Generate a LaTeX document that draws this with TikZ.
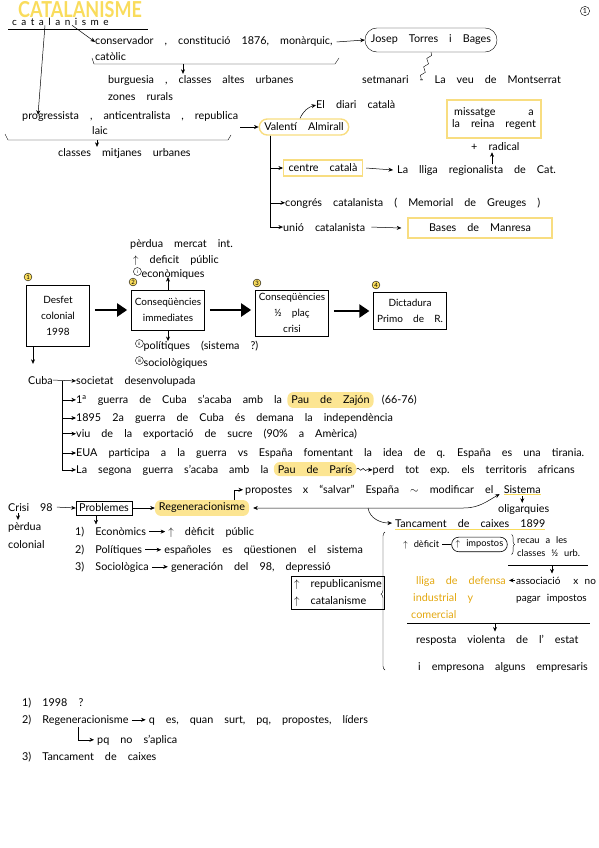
\documentclass[tikz,border=0pt]{standalone}
\usepackage{fontspec}
\setmainfont{Lato}[WordSpace=4]
\newfontfamily\tightsp{Lato}[WordSpace=2.5]
\usepackage{amsmath,amssymb}
\usetikzlibrary{arrows.meta,positioning,calc,shapes.geometric,decorations.pathmorphing,decorations.pathreplacing}
\definecolor{titleyellow}{HTML}{F9DC5C}
\definecolor{hlfill}{HTML}{FCE592}
\definecolor{boxyellow}{HTML}{F8DD80}
\definecolor{orangetxt}{HTML}{E3A70F}
\newcommand{\rnum}[1]{\tikz[baseline=-0.7ex]\node[circle,draw,inner sep=0.3pt,minimum size=8pt,font=\fontsize{4.5}{4.5}\selectfont]{#1};}

\begin{document}
\begin{tikzpicture}[x=1pt, y=-1pt,
  every node/.style={font=\fontsize{10.8}{12}\selectfont},
  txt/.style={anchor=base west, inner sep=0pt},
  smalltxt/.style={anchor=base west, inner sep=0pt, font=\tightsp\fontsize{9.3}{11}\selectfont},
  hl/.style={fill=hlfill, rounded corners=6pt, inner xsep=4pt, inner ysep=3pt},
  ybox/.style={draw=boxyellow, line width=1.4pt, inner xsep=5pt, inner ysep=4pt},
  box/.style={draw, line width=0.7pt, inner sep=3pt},
  flowbox/.style={draw, line width=0.7pt, align=center, font=\fontsize{10}{16}\selectfont},
  numc/.style={circle, draw, fill=titleyellow, inner sep=0.8pt, font=\fontsize{6}{6}\selectfont},
  arr/.style={-{Stealth[length=1.6mm,width=1.4mm]}, line width=0.5pt},
  dbl/.style={{Stealth[length=1.6mm,width=1.4mm]}-{Stealth[length=1.6mm,width=1.4mm]}, line width=0.5pt},
  big/.style={-{Triangle[length=3.5mm,width=4.5mm]}, line width=2.8pt, shorten <=5pt, shorten >=4pt},
  uline/.style={draw=titleyellow, line width=1.2pt}
]
  \useasboundingbox (0,0) rectangle (599,848);

  \node[font=\fontsize{22}{22}\selectfont\bfseries, text=titleyellow, xscale=0.82] (title) at (80,10) {CATALANISME};
  \node[txt, font=\fontsize{10}{11}\selectfont\addfontfeature{LetterSpace=45}] (catal) at (12,26) {catalanisme};
  \draw (8,29) -- (148,29);
  \node[circle, draw, inner sep=1pt, font=\fontsize{7}{7}\selectfont] (pg) at (585,11) {1};

  \node[txt] (conserv) at (95,45) {conservador , constitució 1876, monàrquic,};
  \node[txt] (catolic) at (95,61) {catòlic};
  \draw (92,58) -- (94,64) -- (335,64) -- (339,58);
  \node[txt] (burg) at (108,84) {burguesia , classes altes urbanes};
  \node[txt] (zones) at (108,101) {zones rurals};
  \coordinate (b1) at (183,64);
  \draw[arr] (b1) -- ([yshift=2pt]b1 |- burg.north);
  \draw[arr] ([xshift=60pt,yshift=1pt]catal.south west) -- (conserv.west);

  \node[txt] (prog) at (22,120) {progressista , anticentralista , republica};
  \node[txt] (laic) at (92,135) {laic};
  \draw (5,134) -- (8,140) -- (228,140) -- (231,135);
  \node[txt] (mitj) at (58,157) {classes mitjanes urbanes};
  \coordinate (b2) at (97,140);
  \draw[arr] (b2) -- ([yshift=2pt]b2 |- mitj.north);
  \draw[arr] ([xshift=33pt,yshift=1pt]catal.south west) -- ([xshift=16pt,yshift=-3pt]prog.north west);

  \node[draw, rounded corners=12pt, minimum height=24pt, inner xsep=6pt] (torres) at (431,40) {Josep Torres i Bages};
  \draw[arr] ([xshift=4pt]conserv.east) -- (torres.west);
  \node[txt] (setm) at (362,84) {setmanari - La veu de Montserrat};
  \draw[decorate, decoration={snake, amplitude=1.8pt, segment length=9pt}] (torres.south) -- ([xshift=-10pt,yshift=-3pt]torres.south |- setm.north);

  \coordinate (vstart) at (240,127);
  \node[ybox, rounded corners=8pt] (almi) at (304,127) {Valentí Almirall};
  \draw[arr] (vstart) -- (almi.west);
  \node[txt] (diari) at (316,109) {El diari català};
  \draw[arr] ([xshift=-4pt]almi.north) to[bend left=25] (diari.west);

  \node[ybox, align=center, minimum width=88pt, minimum height=38pt] (miss) at (494,119) {missatge\quad\ \ a\\la reina regent};
  \node[txt] (radic) at (471,150) {+ radical};
  \draw[arr] ([xshift=21pt,yshift=-14pt]radic.south west) -- ([xshift=21pt,yshift=-2pt]radic.south west);

  \coordinate (vtop) at ([xshift=-34pt]almi.south);
  \node[ybox] (centre) at (323,168) {centre català};
  \node[txt] (lliga) at (397,173) {La lliga regionalista de Cat.};
  \node[txt] (congres) at (285,206) {congrés catalanista ( Memorial de Greuges )};
  \node[txt] (unio) at (283,231) {unió catalanista};
  \node[ybox, minimum width=144pt, minimum height=20pt] (bases) at (480,228) {Bases de Manresa};
  \draw[arr] (vtop) |- (centre.west);
  \draw[arr] (vtop) |- (congres.west);
  \draw[arr] (vtop) |- (unio.west);
  \draw[arr] ([xshift=3pt]centre.east) -- ([xshift=-4pt]lliga.west);
  \draw[arr] ([xshift=6pt]unio.east) -- ([xshift=-6pt]bases.west);

  \node[flowbox, minimum width=63pt, minimum height=61pt] (desfet) at (58,316) {Desfet\\colonial\\1998};
  \node[flowbox, minimum width=71pt, minimum height=40pt] (immed) at (168,310) {Conseqüències\\immediates};
  \node[flowbox, minimum width=71pt, minimum height=45pt] (mig) at (292,313) {Conseqüències\\½ plaç\\crisi};
  \node[flowbox, minimum width=72pt, minimum height=37pt] (dicta) at (410,311) {Dictadura\\Primo de R.};
  \node[numc] (n1) at (28,277) {1};
  \node[numc] (n2) at (133,282) {2};
  \node[numc] (n3) at (257,283) {3};
  \node[numc] (n4) at (376,285) {4};
  \draw[big] (desfet.east |- immed.east) -- (immed.west);
  \draw[big] (immed.east) -- (immed.east -| mig.west);
  \draw[big] (mig.east |- dicta.east) -- (dicta.west);

  \node[txt] (perdua) at (130,247) {pèrdua mercat int.};
  \node[txt] (defp) at (133,263) {$\uparrow$ deficit públic};
  \node[txt] (econ) at (133,277) {\rnum{i}econòmiques};
  \node[txt] (polit) at (135,349) {\rnum{ii}polítiques (sistema ?)};
  \node[txt] (socio) at (135,366) {\rnum{iii}sociològiques};
  \draw[arr] (immed.north) -- ([yshift=2pt]immed.north |- econ.south);
  \draw[arr] (immed.south) -- ([yshift=-2pt]immed.south |- polit.north);

  \node[txt] (cuba) at (28,384) {Cuba};
  \draw[arr] ([xshift=-25pt]desfet.south) -- ([xshift=-25pt,yshift=12pt]desfet.south |- cuba.north);
  \node[txt] (soc) at (76,384) {societat desenvolupada};
  \node[txt] (g1) at (76,403) {1\textsuperscript{a} guerra de Cuba s'acaba amb la};
  \node[hl, anchor=base west] (zajon) at ([xshift=5pt]g1.base east) {Pau de Zajón};
  \node[txt] (g1b) at ([xshift=8pt]zajon.base east) {(66-76)};
  \node[txt] (g2) at (76,421) {1895 2a guerra de Cuba és demana la independència};
  \node[txt] (g3) at (76,437) {viu de la exportació de sucre (90\% a Amèrica)};
  \node[txt] (g4) at (76,456) {EUA participa a la guerra vs España fomentant la idea de q. España es una tirania.};
  \node[txt] (g5) at (76,473) {La segona guerra s'acaba amb la};
  \node[hl, anchor=base west] (paris) at ([xshift=5pt]g5.base east) {Pau de París};
  \node[txt] (g5b) at ([xshift=16pt]paris.base east) {perd tot exp. els territoris africans};
  \coordinate (ctrunk) at ($(cuba.base east)+(9,-3)$);
  \draw[arr] (cuba.east) -- (soc.west);
  \draw[arr] (ctrunk) |- (g1.west);
  \draw[arr] (ctrunk) |- (g2.west);
  \draw[arr] (ctrunk) |- (g3.west);
  \draw[arr] (ctrunk) |- (g4.west);
  \draw[arr] (ctrunk) |- (g5.west);
  \draw[arr, decorate, decoration={snake, amplitude=1pt, segment length=5pt, post length=3pt}] (paris.east) -- (g5b.west);

  \node[txt] (crisi) at (8,511) {Crisi 98};
  \node[txt] (perdc) at (8,530) {pèrdua};
  \node[txt] (colon) at (8,548) {colonial};
  \draw[arr] ([xshift=10pt,yshift=-2pt]crisi.south west) -- ([xshift=10pt,yshift=2pt]perdc.north west);
  \node[box] (probl) at (104,508) {Problemes};
  \node[hl] (regen) at (202,508) {Regeneracionisme};
  \draw[arr] ([xshift=4pt]crisi.east) -- (probl.west);
  \draw[arr] (probl.east) -- (regen.west);

  \node[txt] (e1) at (75,535) {1) Econòmics};
  \node[txt] (e1b) at ([xshift=22pt]e1.base east) {$\uparrow$ dèficit públic};
  \node[txt] (e2) at (75,553) {2) Polítiques};
  \node[txt] (e2b) at ([xshift=22pt]e2.base east) {españoles es qüestionen el sistema};
  \node[txt] (e3) at (75,570) {3) Sociològica};
  \node[txt] (e3b) at ([xshift=22pt]e3.base east) {generación del 98, depressió};
  \draw[arr] ([xshift=-8pt]probl.south) -- ([xshift=-8pt,yshift=2pt]probl.south |- e1.north);
  \draw[arr] ([xshift=3pt]e1.east) -- ([xshift=-3pt]e1.east -| e1b.west);
  \draw[arr] ([xshift=3pt]e2.east) -- ([xshift=-3pt]e2.east -| e2b.west);
  \draw[arr] ([xshift=3pt]e3.east) -- ([xshift=-3pt]e3.east -| e3b.west);
  \node[box, align=left, font=\fontsize{10.8}{17}\selectfont] (repcat) at (338,593) {$\uparrow$ republicanisme\\$\uparrow$ catalanisme};

  \node[txt] (prop) at (245,493) {propostes\quad x ``salvar'' España $\sim$ modificar el};
  \node[txt] (sist) at ([xshift=10pt]prop.base east) {Sistema};
  \draw[uline] ([yshift=-1pt]sist.south west) -- ([yshift=-1pt]sist.south east);
  \node[txt] (olig) at (498,512) {oligarquies};
  \draw[arr] ([xshift=32pt]regen.north) |- ([xshift=-2pt]prop.west);
  \draw[arr] ([yshift=-3pt]sist.south) -- ([yshift=1pt]sist.south |- olig.north);
  \draw[dbl] ([xshift=4pt]regen.east) -- ([xshift=-40pt]regen.east -| sist.west) to[out=0, in=210] ([xshift=-4pt,yshift=-5pt]sist.west);

  \coordinate (split) at (368,508);
  \node[txt] (tanc) at (395,527) {Tancament de caixes 1899};
  \draw[uline] ([yshift=-2pt]tanc.south west) -- ([yshift=-2pt]tanc.south east);
  \draw[arr] (split) to[out=-80, in=180] ([xshift=-3pt]tanc.west);
  \draw[decorate, decoration={brace, amplitude=4pt, aspect=0.55}] (385,670) -- (385,532);

  \node[smalltxt] (def) at (403,547) {$\uparrow$ dèficit};
  \node[draw, rounded corners=7pt, inner xsep=4pt, inner ysep=3pt, line width=0.6pt, anchor=west, font=\tightsp\fontsize{9.3}{11}\selectfont] (impo) at ([xshift=12pt]def.east) {$\uparrow$ impostos};
  \draw ([xshift=3pt]def.east) -- (impo.west);
  \draw[decorate, decoration={brace, amplitude=3pt}] ([xshift=4pt,yshift=10pt]impo.east) -- ([xshift=4pt,yshift=-10pt]impo.east);
  \node[smalltxt] (recau) at (517,543) {recau a les};
  \node[smalltxt] (classes) at (517,556) {classes ½ urb.};
  \draw (508,565) -- (588,565);
  \coordinate (r1) at (552,565);
  \node[smalltxt, font=\tightsp\fontsize{10}{11}\selectfont] (assoc) at (516,584) {associació\ \ x no};
  \node[smalltxt, font=\tightsp\fontsize{10}{11}\selectfont] (pagar) at (516,601) {pagar impostos};
  \draw[arr] (r1) -- ([yshift=3pt]r1 |- assoc.north);
  \node[txt, text=orangetxt] (lliga2) at (416,584) {lliga de defensa};
  \node[txt, text=orangetxt] (indus) at (413,601) {industrial\quad y};
  \node[txt, text=orangetxt] (comerc) at (411,618) {comercial};
  \draw[arr] ([xshift=-1pt]assoc.west) -- ([xshift=3pt]assoc.west -| lliga2.east);
  \draw (407,623) -- (590,623);
  \coordinate (r2) at (495,623);
  \node[txt] (resp) at (416,643) {resposta violenta de l' estat};
  \node[txt] (empr) at (418,670) {i empresona alguns empresaris};
  \draw[arr] (r2) -- ([yshift=3pt]r2 |- resp.north);

  \node[txt] (q1) at (22,706) {1) 1998 ?};
  \node[txt] (q2) at (22,723) {2) Regeneracionisme};
  \node[txt] (q2b) at ([xshift=20pt]q2.base east) {q es, quan surt, pq, propostes, líders};
  \node[txt] (q2c) at (97,743) {pq no s'aplica};
  \node[txt] (q3) at (22,760) {3) Tancament de caixes};
  \draw[arr] ([xshift=3pt]q2.east) -- ([xshift=-3pt]q2.east -| q2b.west);
  \draw[arr] ([xshift=56pt,yshift=-2pt]q2.south west) |- ([xshift=-3pt]q2c.west);
\end{tikzpicture}
\end{document}
